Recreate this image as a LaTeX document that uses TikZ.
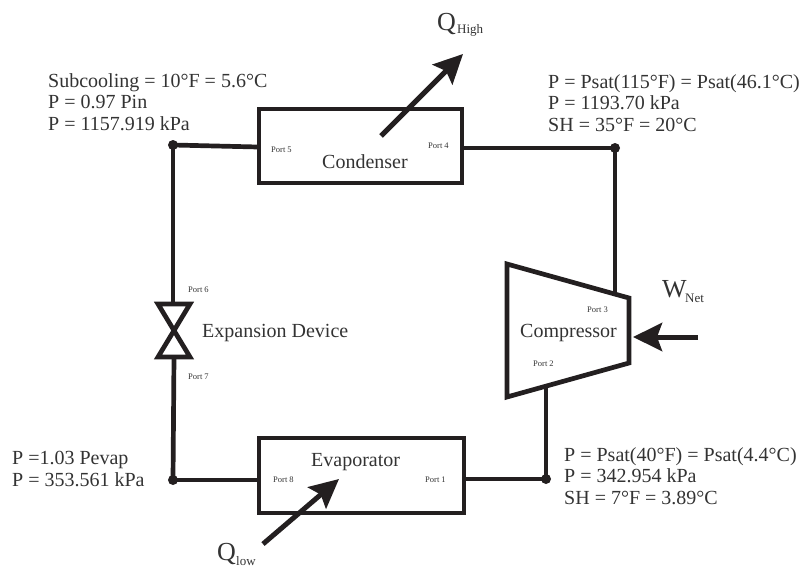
\documentclass[tikz,border=0pt]{standalone}
\usepackage{fontspec}
\setmainfont{Liberation Serif}
\usetikzlibrary{arrows.meta}
\definecolor{ink}{HTML}{231F20}
\definecolor{txt}{HTML}{333333}
\newcommand{\fs}[2]{\fontsize{#1}{#2}\selectfont}
\begin{document}
\begin{tikzpicture}[x=1pt,y=-1pt,
  pipe/.style={draw=ink,line width=4.7pt},
  unitbox/.style={draw=ink,line width=4pt,inner sep=0pt,anchor=north west},
  junction/.style={circle,fill=ink,inner sep=0pt,minimum size=10pt},
  bigarrow/.style={draw=ink,line width=5pt,-{Stealth[length=29pt,width=28pt,inset=5pt,fill=ink]}},
  label/.style={text=txt,font=\fs{20}{21},inner sep=0pt,anchor=base west},
  info/.style={text=txt,font=\fs{20}{21.6},inner sep=0pt,anchor=north west,align=left},
  portlabel/.style={text=txt,font=\fs{8.5}{10},inner sep=0pt,anchor=base west},
  qmain/.style={text=txt,font=\fs{26}{26},inner sep=0pt,anchor=base west},
  qsub/.style={text=txt,font=\fs{13}{13},inner sep=0pt,anchor=base west}]
\useasboundingbox (0,0) rectangle (801,568);

% units
\node[unitbox,minimum width=203pt,minimum height=74pt] (cond) at (257,107) {};
\node[unitbox,minimum width=205pt,minimum height=75pt] (evap) at (257,436) {};

% compressor
\coordinate (ca) at (507,264);
\coordinate (cb) at (629,298);
\coordinate (cc) at (629,363);
\coordinate (cd) at (507,397);
\draw[pipe,line join=miter] (ca) -- (cb) -- (cc) -- (cd) -- cycle;
\coordinate (cout) at (615,294);
\coordinate (cin) at (546,387);

% valve
\coordinate (vnw) at (158,304);
\coordinate (vne) at (190,304);
\coordinate (vsw) at (158,357);
\coordinate (vse) at (190,357);
\draw[pipe,line join=miter] (vnw) -- (vne) -- (vsw) -- (vse) -- cycle;
\coordinate (vtop) at (173,304);
\coordinate (vbot) at (174,357);

% junctions
\node[junction] (jnw) at (173,145) {};
\node[junction] (jne) at (615,148) {};
\node[junction] (jsw) at (173,480) {};
\node[junction] (jse) at (546,479) {};

% pipes
\draw[pipe] (jnw.center) -- (258,147);
\draw[pipe] (463,148) -- (jne.center);
\draw[pipe] (jne.center) -- (cout);
\draw[pipe] (cin) -- (jse.center);
\draw[pipe] (jse.center) -- (464,479);
\draw[pipe] (259,480) -- (jsw.center);
\draw[pipe] (jsw.center) -- (vbot);
\draw[pipe] (vtop) -- (jnw.center);

% heat and work arrows
\coordinate (qhs) at (381,136);
\coordinate (qhe) at (463,54);
\coordinate (qls) at (263,544);
\coordinate (qle) at (339,479);
\coordinate (wns) at (698,337);
\coordinate (wne) at (633,337);
\draw[bigarrow] (qhs) -- (qhe);
\draw[bigarrow] (qls) -- (qle);
\draw[bigarrow] (wns) -- (wne);

% unit labels
\node[label] (lcond) at (322,168) {Condenser};
\node[label] (levap) at (311,466) {Evaporator};
\node[label] (lcomp) at (520,337) {Compressor};
\node[label] (lexp) at (202,337) {Expansion Device};

% ports
\node[portlabel] (p1) at (425,482) {Port 1};
\node[portlabel] (p2) at (533,366) {Port 2};
\node[portlabel] (p3) at (587,312) {Port 3};
\node[portlabel] (p4) at (428,148) {Port 4};
\node[portlabel] (p5) at (271,152) {Port 5};
\node[portlabel] (p6) at (188,292) {Port 6};
\node[portlabel] (p7) at (188,379) {Port 7};
\node[portlabel] (p8) at (273,482) {Port 8};

% state notes
\node[info] (n1) at (48,73) {Subcooling = 10°F = 5.6°C\\P = 0.97 Pin\\P = 1157.919 kPa};
\node[info] (n2) at (548,74) {P = Psat(115°F) = Psat(46.1°C)\\P = 1193.70 kPa\\SH = 35°F = 20°C};
\node[info] (n3) at (12,451) {P =1.03 Pevap\\P = 353.561 kPa};
\node[info] (n4) at (564,447) {P = Psat(40°F) = Psat(4.4°C)\\P = 342.954 kPa\\SH = 7°F = 3.89°C};

% heat and work labels
\node[qmain] (qh) at (437,30) {Q};
\node[qsub] (qhsub) at (457,33) {High};
\node[qmain] (ql) at (217,560) {Q};
\node[qsub] (qlsub) at (236,565) {low};
\node[qmain] (wn) at (662,297) {W};
\node[qsub] (wnsub) at (685,302) {Net};
\end{tikzpicture}
\end{document}
